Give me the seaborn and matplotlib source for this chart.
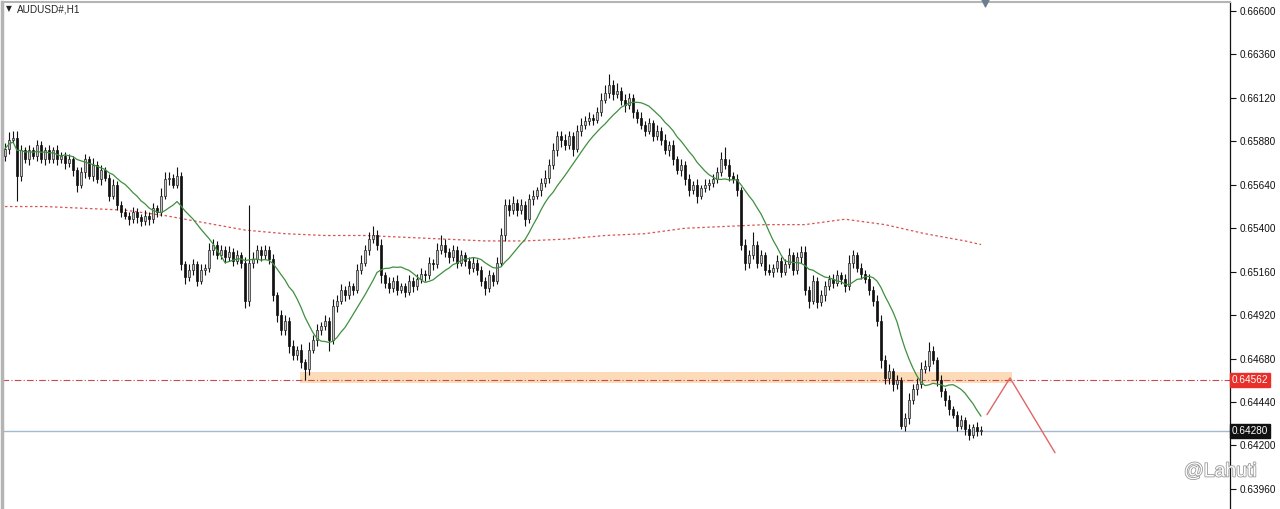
import numpy as np
import pandas as pd
import seaborn as sns
import matplotlib.pyplot as plt
import matplotlib.patheffects as pe
import matplotlib.transforms as mtransforms

# ---- data (AUDUSD H1) ----
symbol_title = "AUDUSD#,H1"
first_open = 0.6580

closes = [
    0.6584, 0.6589, 0.6590, 0.6569, 0.6583, 0.6578, 0.6583, 0.6580, 0.6586, 0.6578,
    0.6583, 0.6578, 0.6583, 0.6578, 0.6580, 0.6576, 0.6578, 0.6572, 0.6564, 0.6571,
    0.6578, 0.6569, 0.6575, 0.6567, 0.6572, 0.6568, 0.6558, 0.6564, 0.6553, 0.6549,
    0.6547, 0.6545, 0.6549, 0.6546, 0.6544, 0.6547, 0.6545, 0.6551, 0.6549, 0.6558,
    0.6567, 0.6568, 0.6564, 0.6569, 0.6520, 0.6513, 0.6517, 0.6520, 0.6511, 0.6517,
    0.6518, 0.6528, 0.6531, 0.6525, 0.6528, 0.6524, 0.6527, 0.6522, 0.6525, 0.6521,
    0.6500, 0.6521, 0.6523, 0.6528, 0.6525, 0.6528, 0.6523, 0.6503, 0.6492, 0.6484,
    0.6489, 0.6475, 0.6470, 0.6473, 0.6466, 0.6462, 0.6473, 0.6478, 0.6484, 0.6486,
    0.6489, 0.6478, 0.6497, 0.6500, 0.6506, 0.6503, 0.6508, 0.6506, 0.6517, 0.6521,
    0.6528, 0.6534, 0.6536, 0.6531, 0.6514, 0.6510, 0.6507, 0.6511, 0.6506, 0.6508,
    0.6505, 0.6511, 0.6508, 0.6512, 0.6515, 0.6514, 0.6521, 0.6520, 0.6528, 0.6531,
    0.6527, 0.6524, 0.6528, 0.6521, 0.6525, 0.6522, 0.6518, 0.6521, 0.6517, 0.6511,
    0.6507, 0.6514, 0.6511, 0.6521, 0.6536, 0.6553, 0.6550, 0.6554, 0.6550, 0.6553,
    0.6545, 0.6556, 0.6558, 0.6561, 0.6565, 0.6568, 0.6575, 0.6583, 0.6591, 0.6589,
    0.6586, 0.6591, 0.6584, 0.6594, 0.6597, 0.6599, 0.6601, 0.6600, 0.6604, 0.6611,
    0.6615, 0.6619, 0.6614, 0.6616, 0.6611, 0.6608, 0.6612, 0.6604, 0.6601, 0.6597,
    0.6594, 0.6598, 0.6591, 0.6594, 0.6589, 0.6583, 0.6586, 0.6578, 0.6572, 0.6575,
    0.6567, 0.6561, 0.6564, 0.6558, 0.6562, 0.6564, 0.6565, 0.6567, 0.6571, 0.6578,
    0.6575, 0.6569, 0.6567, 0.6561, 0.6531, 0.6521, 0.6525, 0.6531, 0.6521, 0.6525,
    0.6517, 0.6516, 0.6518, 0.6522, 0.6516, 0.6520, 0.6525, 0.6517, 0.6524, 0.6527,
    0.6506, 0.6500, 0.6511, 0.6499, 0.6503, 0.6508, 0.6512, 0.6510, 0.6514, 0.6512,
    0.6508, 0.6521, 0.6525, 0.6518, 0.6515, 0.6512, 0.6506, 0.6500, 0.6489, 0.6467,
    0.6457, 0.6461, 0.6454, 0.6456, 0.6431, 0.6435, 0.6445, 0.6451, 0.6454, 0.6462,
    0.6464, 0.6472, 0.6467, 0.6456, 0.6450, 0.6445, 0.6440, 0.6437, 0.6431, 0.6434,
    0.6429, 0.6426, 0.6430, 0.6428, 0.6428,
]

# wick lengths in pips above / below the body
wick_up = [
    3, 4, 4, 4, 3, 2, 3, 2, 3, 2,
    2, 3, 2, 3, 2, 2, 3, 2, 2, 3,
    3, 2, 4, 2, 3, 2, 2, 3, 2, 2,
    2, 2, 3, 2, 2, 3, 2, 3, 2, 4,
    4, 3, 2, 5, 2, 2, 3, 3, 2, 3,
    2, 4, 3, 2, 3, 2, 3, 2, 3, 2,
    3, 32, 4, 3, 2, 3, 2, 3, 2, 3,
    3, 2, 3, 2, 3, 2, 4, 3, 3, 2,
    3, 2, 4, 3, 3, 2, 3, 2, 3, 4,
    3, 4, 5, 3, 3, 2, 3, 2, 3, 2,
    2, 3, 2, 3, 3, 2, 3, 2, 4, 5,
    3, 2, 3, 2, 3, 2, 2, 3, 2, 2,
    2, 3, 2, 3, 4, 3, 3, 4, 2, 3,
    2, 3, 3, 2, 3, 4, 3, 4, 3, 3,
    3, 3, 2, 3, 4, 3, 3, 2, 3, 4,
    4, 6, 3, 4, 2, 3, 3, 2, 2, 3,
    2, 3, 2, 3, 2, 3, 2, 3, 2, 3,
    2, 3, 2, 3, 2, 3, 2, 3, 3, 4,
    7, 3, 2, 3, 2, 3, 3, 7, 2, 3,
    2, 3, 2, 3, 2, 3, 4, 2, 3, 3,
    3, 2, 3, 2, 3, 3, 2, 3, 3, 2,
    3, 4, 3, 2, 3, 2, 3, 2, 3, 3,
    3, 4, 2, 3, 2, 3, 4, 3, 3, 4,
    3, 5, 3, 2, 3, 2, 3, 2, 2, 3,
    2, 3, 2, 3, 3,
]
wick_dn = [
    3, 3, 2, 14, 3, 2, 3, 2, 3, 2,
    3, 2, 2, 3, 2, 3, 2, 3, 4, 2,
    3, 2, 3, 2, 3, 2, 3, 2, 3, 3,
    2, 3, 2, 3, 3, 2, 3, 2, 3, 2,
    2, 3, 2, 2, 3, 4, 2, 3, 3, 2,
    3, 2, 3, 2, 2, 3, 2, 3, 2, 3,
    4, 3, 3, 2, 3, 2, 3, 3, 4, 3,
    3, 4, 3, 3, 3, 6, 3, 2, 3, 3,
    2, 6, 2, 3, 2, 3, 2, 3, 2, 2,
    2, 3, 2, 3, 4, 3, 3, 2, 3, 2,
    3, 2, 3, 2, 2, 3, 2, 3, 2, 2,
    3, 3, 2, 3, 2, 3, 3, 2, 3, 3,
    4, 2, 3, 2, 2, 3, 3, 2, 3, 2,
    4, 2, 3, 2, 3, 2, 3, 2, 3, 4,
    3, 2, 4, 2, 3, 2, 2, 3, 2, 2,
    2, 3, 3, 2, 3, 4, 2, 3, 3, 2,
    3, 2, 3, 2, 3, 2, 3, 3, 2, 3,
    3, 3, 2, 4, 2, 2, 3, 2, 2, 2,
    2, 3, 2, 3, 3, 4, 3, 2, 3, 2,
    3, 2, 3, 2, 3, 2, 2, 3, 2, 3,
    3, 4, 2, 3, 2, 3, 2, 3, 2, 3,
    3, 2, 3, 2, 3, 2, 3, 3, 3, 4,
    3, 3, 4, 3, 2, 3, 3, 2, 3, 2,
    2, 3, 2, 3, 3, 3, 3, 2, 3, 2,
    3, 3, 2, 3, 2,
]

# slow moving average (red dotted), one reading every 10 bars + last bar
ma_slow = [0.6552, 0.6552, 0.6551, 0.6550, 0.6547, 0.6543, 0.6539, 0.6537, 0.6536,
           0.6536, 0.6535, 0.6534, 0.6533, 0.6533, 0.6534, 0.6536, 0.6537, 0.6540,
           0.6541, 0.6542, 0.6542, 0.6545, 0.6542, 0.6537, 0.6533, 0.6531]
ma_fast_period = 12

price_ticks = [0.66600, 0.66360, 0.66120, 0.65880, 0.65640, 0.65400,
               0.65160, 0.64920, 0.64680, 0.64440, 0.64200, 0.63960]
level_price = 0.64562
bid_price = 0.64280
zone_low, zone_high = 0.64545, 0.64606
zone_bars = [73.75, 251.75]
forecast_bars = [245.5, 251.25, 262.5]
forecast_prices = [0.6437, 0.64573, 0.6416]

# ---- build OHLC ----
n = len(closes)
bars = np.arange(n)
df = pd.DataFrame({"bar": bars, "close": closes})
df["open"] = df["close"].shift(1).fillna(first_open)
df["high"] = df[["open", "close"]].max(axis=1) + np.array(wick_up) * 1e-4
df["low"] = df[["open", "close"]].min(axis=1) - np.array(wick_dn) * 1e-4
df["ma_fast"] = df["close"].rolling(ma_fast_period, min_periods=1).mean()
slow_idx = list(range(0, n - 4, 10)) + [n - 1]

sns.set_style("white")
plt.rcParams["font.family"] = ["Liberation Sans", "DejaVu Sans"]

fig = plt.figure(figsize=(12.8, 5.09), dpi=100)
ax = fig.add_axes([2 / 1280, 0, 1228 / 1280, 507 / 509])

# zone + levels
ax.fill_between(zone_bars, zone_low, zone_high, color="#fcdcb8", zorder=1, lw=0)
ax.axhline(level_price, color="#c94a4a", lw=0.8, ls=(0, (6, 2, 1, 2)), zorder=2)
ax.axhline(bid_price, color="#a3b9cf", lw=1.0, zorder=2)

# candles
up = df["close"] >= df["open"]
ax.vlines(df["bar"], df["low"], df["high"], color="#111111", lw=0.8, zorder=3)
body_h = (df["close"] - df["open"]).abs().clip(lower=0.00004)
body_b = df[["open", "close"]].min(axis=1)
ax.bar(df["bar"][up], body_h[up], bottom=body_b[up], width=0.62,
       color="#c4c4c4", edgecolor="#222222", linewidth=0.5, zorder=4)
ax.bar(df["bar"][~up], body_h[~up], bottom=body_b[~up], width=0.62,
       color="#111111", edgecolor="#111111", linewidth=0.5, zorder=4)

# moving averages
sns.lineplot(x=df["bar"], y=df["ma_fast"], color="#3f8f3f", lw=0.9, ax=ax, zorder=5)
sns.lineplot(x=slow_idx, y=ma_slow, color="#d9534f", lw=0.9, ls=(0, (2, 2)), ax=ax, zorder=2)

# forecast arrow
ax.plot(forecast_bars, forecast_prices, color="#e06666", lw=1.0, zorder=5)

ax.set_xlim(-0.75, 306.25)
ax.set_ylim(0.63849, 0.66650)
ax.set_xlabel("")
ax.set_ylabel("")
ax.set_xticks([])
ax.yaxis.tick_right()
ax.set_yticks(price_ticks)
ax.set_yticklabels([f"{p:.5f}" for p in price_ticks])
ax.tick_params(axis="y", length=4, width=0.8, pad=3, labelsize=7.2, colors="#111111")

ax.spines["bottom"].set_visible(False)
ax.spines["right"].set_color("#111111")
ax.spines["right"].set_linewidth(0.9)
ax.spines["left"].set_color("#b4b4b4")
ax.spines["left"].set_linewidth(2.5)
ax.spines["top"].set_color("#b4b4b4")
ax.spines["top"].set_linewidth(1.5)

# price boxes on the axis
trans = mtransforms.blended_transform_factory(ax.transAxes, ax.transData)
ax.text(1.0015, level_price, f"{level_price:.5f}", transform=trans, fontsize=7.2,
        color="white", va="center", ha="left",
        bbox=dict(boxstyle="square,pad=0.2", fc="#e8302a", ec="#e8302a"))
ax.text(1.0015, bid_price, f"{bid_price:.5f}", transform=trans, fontsize=7.2,
        color="white", va="center", ha="left",
        bbox=dict(boxstyle="square,pad=0.2", fc="#111111", ec="#111111"))

# shift marker at the top
ax.scatter([245], [1.0], marker="v", s=40, color="#6d7f8f",
           transform=mtransforms.blended_transform_factory(ax.transData, ax.transAxes),
           clip_on=False, zorder=6)

# title
fig.text(6 / 1280, 1 - 9 / 509, "\u25bc", fontsize=5.5, va="center", ha="left",
         family=["DejaVu Sans"])
fig.text(17 / 1280, 1 - 9 / 509, symbol_title, fontsize=7.2, va="center", ha="left")

# watermark
fig.text(1184 / 1280, 1 - 472 / 509, "@Lahuti", fontsize=14, va="center", ha="left",
         color="white", path_effects=[pe.withStroke(linewidth=1.2, foreground="#9a9a9a")])

fig.savefig("out.png", dpi=100)
